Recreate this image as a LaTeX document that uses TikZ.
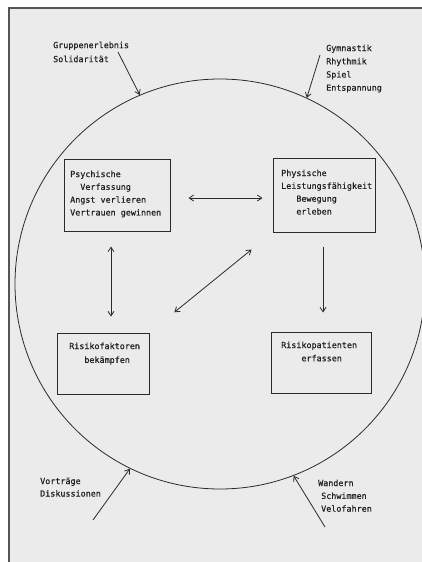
\documentclass[tikz,border=0pt]{standalone}
\usepackage{fontspec}
\newfontfamily\plotfont[FakeBold=0.6]{DejaVu Sans Mono}
\usetikzlibrary{arrows.meta}
\definecolor{ink}{HTML}{2A2A2A}
\definecolor{paper}{HTML}{EBEBEB}
\begin{document}
\begin{tikzpicture}[x=1pt,y=-1pt,
  ink line/.style={draw=ink,line width=0.8pt},
  boxnode/.style={draw=ink,line width=1pt,rectangle,inner sep=0pt},
  txt/.style={font=\plotfont\fontsize{8.4}{12.8}\selectfont,text=ink!80!black,inner sep=0pt,align=left,anchor=north west},
  tip/.style={-{Straight Barb[length=4.5pt,width=6pt]}},
  dtip/.style={{Straight Barb[length=4.5pt,width=6pt]}-{Straight Barb[length=4.5pt,width=6pt]}}
]
\useasboundingbox (0,0) rectangle (422,562);
\fill[white] (0,0) rectangle (422,562);
\fill[paper] (9,8) rectangle (422,562);
\draw[draw=ink!80,line width=1.3pt] (9,562) -- (9,8) -- (422,8);

% circle
\node[ink line,circle,minimum size=410pt,inner sep=0pt] (c) at (220,284) {};

% boxes
\node[boxnode,minimum width=106pt,minimum height=72pt] (psy) at (117,195) {};
\node[boxnode,minimum width=102pt,minimum height=74pt] (phy) at (324,195) {};
\node[boxnode,minimum width=92pt,minimum height=61pt] (risk) at (103,363.5) {};
\node[boxnode,minimum width=100pt,minimum height=61pt] (pat) at (321,362.5) {};

% box texts
\node[txt] (psyt) at (70,170.5) {Psychische\\\phantom{xx}Verfassung\\Angst verlieren\\Vertrauen gewinnen};
\node[txt] (phyt) at (281,169.5) {Physische\\Leistungsfähigkeit\\\phantom{xxx}Bewegung\\\phantom{xxx}erleben};
\node[txt,font=\plotfont\fontsize{8.4}{13.8}\selectfont] (riskt) at (69,342.5) {Risikofaktoren\\\phantom{xxx}bekämpfen};
\node[txt,font=\plotfont\fontsize{8.4}{13.2}\selectfont] (patt) at (281,341.5) {Risikopatienten\\\phantom{xxxx}erfassen};

% outer labels
\node[txt,font=\plotfont\fontsize{8.4}{14}\selectfont] (grp) at (53,41.5) {Gruppenerlebnis\\Solidarität};
\node[txt,font=\plotfont\fontsize{8.4}{13.2}\selectfont] (gym) at (326,44.5) {Gymnastik\\Rhythmik\\Spiel\\Entspannung};
\node[txt,font=\plotfont\fontsize{8.4}{12.5}\selectfont] (vor) at (40,477.5) {Vorträge\\Diskussionen};
\node[txt,font=\plotfont\fontsize{8.4}{12.8}\selectfont] (wan) at (321,479.5) {\hspace*{-3pt}Wandern\\Schwimmen\\Velofahren};

% free ends of outer arrows
\coordinate (grpS) at (118,52);
\coordinate (gymS) at (320,55);
\coordinate (vorS) at (93,520);
\coordinate (wanS) at (325,527);

\draw[ink line,tip] (grpS) -- (c.113.6);
\draw[ink line,tip] (gymS) -- (c.65.6);
\draw[ink line,tip] (vorS) -- (c.244.3);
\draw[ink line,tip] (wanS) -- (c.291.3);

% inner arrows
\draw[ink line,dtip,shorten <=18pt,shorten >=10pt] ([yshift=-3pt]psy.east) -- ([yshift=-3pt]phy.west);
\draw[ink line,dtip,shorten <=15pt,shorten >=16pt] ([xshift=-6pt]psy.south) -- ([xshift=8pt]risk.north);
\draw[ink line,dtip,shorten <=32pt,shorten >=27pt] (risk.north east) -- (phy.south west);
\draw[ink line,tip,shorten <=14pt,shorten >=19pt] ([xshift=-1pt]phy.south) -- ([xshift=2pt]pat.north);
\end{tikzpicture}
\end{document}
